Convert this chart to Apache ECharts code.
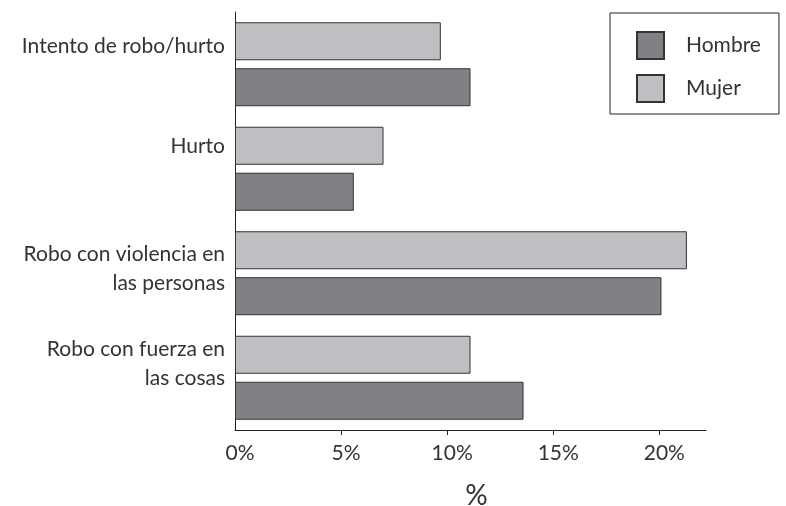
<!DOCTYPE html>
<html><head><meta charset="utf-8">
<script src="https://cdn.jsdelivr.net/npm/echarts@6/dist/echarts.min.js"></script>
<style>html,body{margin:0;padding:0;background:#fff}#c{width:786px;height:506px}</style>
</head><body><div id="c"></div>
<script>
var categories = ['Intento de robo/hurto', 'Hurto', 'Robo con violencia en\nlas personas', 'Robo con fuerza en\nlas cosas'];
var hombre = [11.1, 5.6, 20.1, 13.6];
var mujer = [9.7, 7.0, 21.3, 11.1];
var tickValues = [0, 5, 10, 15, 20];
var labelSpacer = [36, 46, 10, 28];

var FONT = 'Lato';
var FS = 21;
var rich = {t: {fontFamily: FONT, fontSize: FS, color: '#333', lineHeight: 29, align: 'right'}};
labelSpacer.forEach(function (h, i) { rich['g' + i] = {lineHeight: h, fontSize: 1, align: 'right'}; });

var chart = echarts.init(document.getElementById('c'), null, {renderer: 'canvas'});
chart.setOption({
  animation: false,
  textStyle: {fontFamily: FONT},
  legend: {
    orient: 'vertical', left: 610, top: 13,
    data: ['Hombre', 'Mujer'],
    icon: 'rect',
    itemWidth: 27, itemHeight: 27, itemGap: 14,
    padding: [18, 18, 11, 26],
    borderColor: '#222', borderWidth: 1,
    textStyle: {fontFamily: FONT, fontSize: FS, color: '#333', padding: [0, 0, 0, 17]}
  },
  grid: {left: 235, right: 80, top: 12, bottom: 76, outerBoundsMode: 'none', containLabel: false},
  xAxis: {
    type: 'value', min: 0, max: 22.2, interval: 5,
    name: '%', nameLocation: 'middle', nameGap: 52,
    nameTextStyle: {fontFamily: FONT, fontSize: 28, color: '#333', padding: [0, 0, 0, 12]},
    splitLine: {show: false},
    axisLine: {show: true, lineStyle: {color: '#222', width: 1}},
    axisTick: {show: true, length: 5, lineStyle: {color: '#222'}, customValues: [5, 10, 15, 20]},
    axisLabel: {
      customValues: tickValues, margin: 13,
      fontFamily: FONT, fontSize: FS, color: '#333',
      padding: [0, 0, 0, 10],
      formatter: function (v) { return v + '%'; }
    }
  },
  yAxis: {
    type: 'category', inverse: true,
    data: categories,
    axisLine: {show: true, lineStyle: {color: '#222', width: 1}},
    axisTick: {show: false},
    axisLabel: {
      margin: 10, align: 'right',
      formatter: function (v, i) {
        return v.split('\n').map(function (s) { return '{t|' + s + '}'; }).join('\n') + '\n{g' + i + '| }';
      },
      rich: rich
    }
  },
  series: [
    {name: 'Mujer', type: 'bar', data: mujer, barWidth: 38, barGap: '21%',
     itemStyle: {color: '#bebfc2', borderColor: '#333', borderWidth: 1}},
    {name: 'Hombre', type: 'bar', data: hombre, barWidth: 38, barGap: '21%',
     itemStyle: {color: '#808184', borderColor: '#333', borderWidth: 1}}
  ]
});
</script></body></html>
